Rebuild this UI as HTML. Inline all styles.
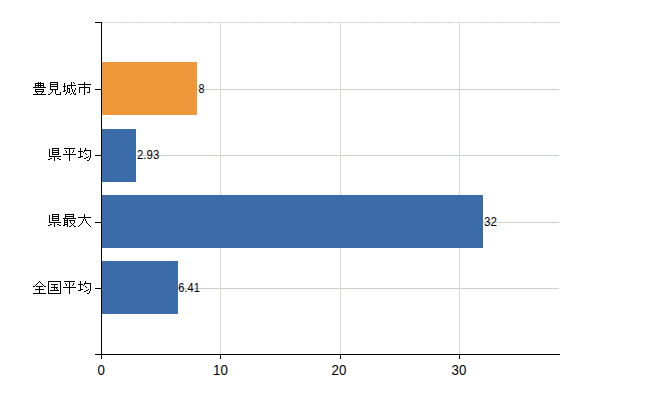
<!DOCTYPE html>
<html><head><meta charset="utf-8"><style>
html,body{margin:0;padding:0;background:#fff;width:650px;height:400px;overflow:hidden}
svg{position:absolute;left:0;top:0;display:block}
.dl{font-family:"Liberation Sans",sans-serif;font-size:12px;fill:#000}
.xl{font-family:"Liberation Sans",sans-serif;font-size:14px;fill:#000}
</style></head><body>
<svg width="650" height="400" viewBox="0 0 650 400">
<g shape-rendering="crispEdges">
<path d="M102 22.5H559" stroke="#dcd6dc" stroke-width="1" stroke-dasharray="14 1" stroke-dashoffset="7"/>
<rect x="102" y="89" width="457" height="1" fill="#c9d2c9"/>
<rect x="102" y="155" width="457" height="1" fill="#c9d2c9"/>
<rect x="102" y="222" width="457" height="1" fill="#c9d2c9"/>
<rect x="102" y="288" width="457" height="1" fill="#c9d2c9"/>
<rect x="220" y="23" width="1" height="331" fill="#d6dad7"/>
<rect x="340" y="23" width="1" height="331" fill="#d6dad7"/>
<rect x="459" y="23" width="1" height="331" fill="#d6dad7"/>
<rect x="102" y="62" width="95" height="53" fill="#ee963a"/>
<rect x="102" y="129" width="34" height="53" fill="#3c6ba9"/>
<rect x="102" y="195" width="381" height="53" fill="#3c6ba9"/>
<rect x="102" y="261" width="76" height="53" fill="#3c6ba9"/>
<rect x="101" y="22" width="1" height="337" fill="#000"/>
<rect x="95" y="354" width="465" height="1" fill="#000"/>
<rect x="95" y="22" width="6" height="1" fill="#000"/>
<rect x="95" y="89" width="6" height="1" fill="#000"/>
<rect x="95" y="155" width="6" height="1" fill="#000"/>
<rect x="95" y="222" width="6" height="1" fill="#000"/>
<rect x="95" y="288" width="6" height="1" fill="#000"/>
<rect x="220" y="354" width="1" height="5" fill="#000"/>
<rect x="340" y="354" width="1" height="5" fill="#000"/>
<rect x="459" y="354" width="1" height="5" fill="#000"/>
</g>
<text transform="translate(198.4,92.5) scale(0.9,1)" class="dl">8</text>
<text transform="translate(137.0,159.0) scale(0.955,1)" class="dl">2.93</text>
<text transform="translate(484.0,226.0) scale(0.97,1)" class="dl">32</text>
<text transform="translate(178.3,292.0) scale(0.92,1)" class="dl">6.41</text>
<text transform="translate(101.3,375) scale(0.95,1)" class="xl" text-anchor="middle">0</text>
<text transform="translate(220.4,375) scale(0.95,1)" class="xl" text-anchor="middle">10</text>
<text transform="translate(339.0,375) scale(0.95,1)" class="xl" text-anchor="middle">20</text>
<text transform="translate(458.9,375) scale(0.95,1)" class="xl" text-anchor="middle">30</text>
<g fill="#000" shape-rendering="crispEdges">
<path d="M38 82h1v1h-1zM40 82h1v1h-1zM50 82h8v1h-8zM71 82h1v1h-1zM73 82h1v1h-1zM84 82h1v1h-1zM35 83h9v1h-9zM50 83h1v1h-1zM57 83h1v1h-1zM64 83h1v1h-1zM71 83h1v1h-1zM74 83h1v1h-1zM84 83h1v1h-1zM35 84h1v1h-1zM38 84h1v1h-1zM40 84h1v1h-1zM43 84h1v1h-1zM50 84h8v1h-8zM64 84h1v1h-1zM71 84h1v1h-1zM78 84h13v1h-13zM35 85h9v1h-9zM50 85h1v1h-1zM57 85h1v1h-1zM64 85h1v1h-1zM67 85h9v1h-9zM84 85h1v1h-1zM35 86h1v1h-1zM38 86h1v1h-1zM40 86h1v1h-1zM43 86h1v1h-1zM50 86h8v1h-8zM63 86h3v1h-3zM67 86h1v1h-1zM71 86h1v1h-1zM84 86h1v1h-1zM33 87h13v1h-13zM50 87h1v1h-1zM57 87h1v1h-1zM64 87h1v1h-1zM67 87h1v1h-1zM71 87h1v1h-1zM79 87h11v1h-11zM50 88h1v1h-1zM57 88h1v1h-1zM64 88h1v1h-1zM67 88h3v1h-3zM71 88h1v1h-1zM75 88h1v1h-1zM79 88h1v1h-1zM84 88h1v1h-1zM89 88h1v1h-1zM35 89h9v1h-9zM50 89h8v1h-8zM64 89h1v1h-1zM67 89h1v1h-1zM69 89h1v1h-1zM72 89h1v1h-1zM75 89h1v1h-1zM79 89h1v1h-1zM84 89h1v1h-1zM89 89h1v1h-1zM35 90h1v1h-1zM43 90h1v1h-1zM52 90h1v1h-1zM55 90h1v1h-1zM64 90h2v1h-2zM67 90h1v1h-1zM69 90h1v1h-1zM72 90h1v1h-1zM74 90h1v1h-1zM79 90h1v1h-1zM84 90h1v1h-1zM89 90h1v1h-1zM35 91h9v1h-9zM52 91h1v1h-1zM55 91h1v1h-1zM63 91h2v1h-2zM67 91h1v1h-1zM69 91h1v1h-1zM72 91h1v1h-1zM74 91h1v1h-1zM79 91h1v1h-1zM84 91h1v1h-1zM89 91h1v1h-1zM36 92h1v1h-1zM42 92h1v1h-1zM51 92h1v1h-1zM55 92h1v1h-1zM60 92h1v1h-1zM66 92h1v1h-1zM68 92h2v1h-2zM73 92h1v1h-1zM79 92h1v1h-1zM84 92h1v1h-1zM87 92h3v1h-3zM37 93h1v1h-1zM41 93h1v1h-1zM50 93h1v1h-1zM55 93h1v1h-1zM60 93h1v1h-1zM66 93h1v1h-1zM71 93h1v1h-1zM73 93h1v1h-1zM75 93h1v1h-1zM84 93h1v1h-1zM33 94h13v1h-13zM48 94h2v1h-2zM56 94h5v1h-5zM65 94h1v1h-1zM70 94h1v1h-1zM74 94h2v1h-2zM84 94h1v1h-1zM52 148h7v1h-7zM64 148h11v1h-11zM80 148h1v1h-1zM85 148h1v1h-1zM49 149h1v1h-1zM52 149h1v1h-1zM58 149h1v1h-1zM69 149h1v1h-1zM80 149h1v1h-1zM85 149h1v1h-1zM49 150h1v1h-1zM52 150h7v1h-7zM65 150h1v1h-1zM69 150h1v1h-1zM73 150h1v1h-1zM80 150h1v1h-1zM84 150h7v1h-7zM49 151h1v1h-1zM52 151h1v1h-1zM58 151h1v1h-1zM66 151h1v1h-1zM69 151h1v1h-1zM73 151h1v1h-1zM78 151h5v1h-5zM84 151h1v1h-1zM90 151h1v1h-1zM49 152h1v1h-1zM52 152h7v1h-7zM66 152h1v1h-1zM69 152h1v1h-1zM72 152h1v1h-1zM80 152h1v1h-1zM83 152h1v1h-1zM90 152h1v1h-1zM49 153h1v1h-1zM52 153h1v1h-1zM58 153h1v1h-1zM69 153h1v1h-1zM80 153h1v1h-1zM85 153h1v1h-1zM90 153h1v1h-1zM49 154h1v1h-1zM52 154h7v1h-7zM63 154h13v1h-13zM80 154h1v1h-1zM86 154h1v1h-1zM90 154h1v1h-1zM49 155h1v1h-1zM69 155h1v1h-1zM80 155h1v1h-1zM90 155h1v1h-1zM49 156h12v1h-12zM69 156h1v1h-1zM80 156h3v1h-3zM88 156h1v1h-1zM90 156h1v1h-1zM54 157h1v1h-1zM69 157h1v1h-1zM78 157h3v1h-3zM86 157h2v1h-2zM90 157h1v1h-1zM50 158h2v1h-2zM54 158h1v1h-1zM57 158h2v1h-2zM69 158h1v1h-1zM84 158h2v1h-2zM89 158h1v1h-1zM48 159h2v1h-2zM54 159h1v1h-1zM59 159h2v1h-2zM69 159h1v1h-1zM89 159h1v1h-1zM54 160h1v1h-1zM69 160h1v1h-1zM87 160h2v1h-2zM52 214h7v1h-7zM65 214h9v1h-9zM84 214h1v1h-1zM49 215h1v1h-1zM52 215h1v1h-1zM58 215h1v1h-1zM65 215h1v1h-1zM73 215h1v1h-1zM84 215h1v1h-1zM49 216h1v1h-1zM52 216h7v1h-7zM65 216h9v1h-9zM84 216h1v1h-1zM49 217h1v1h-1zM52 217h1v1h-1zM58 217h1v1h-1zM65 217h1v1h-1zM73 217h1v1h-1zM78 217h13v1h-13zM49 218h1v1h-1zM52 218h7v1h-7zM63 218h13v1h-13zM84 218h1v1h-1zM49 219h1v1h-1zM52 219h1v1h-1zM58 219h1v1h-1zM64 219h1v1h-1zM67 219h1v1h-1zM83 219h1v1h-1zM85 219h1v1h-1zM49 220h1v1h-1zM52 220h7v1h-7zM64 220h4v1h-4zM69 220h6v1h-6zM83 220h1v1h-1zM85 220h1v1h-1zM49 221h1v1h-1zM64 221h1v1h-1zM67 221h1v1h-1zM70 221h1v1h-1zM74 221h1v1h-1zM82 221h1v1h-1zM86 221h1v1h-1zM49 222h12v1h-12zM64 222h4v1h-4zM70 222h1v1h-1zM74 222h1v1h-1zM82 222h1v1h-1zM86 222h1v1h-1zM54 223h1v1h-1zM64 223h1v1h-1zM67 223h1v1h-1zM71 223h1v1h-1zM73 223h1v1h-1zM81 223h1v1h-1zM87 223h1v1h-1zM50 224h2v1h-2zM54 224h1v1h-1zM57 224h2v1h-2zM64 224h4v1h-4zM72 224h1v1h-1zM80 224h1v1h-1zM88 224h1v1h-1zM48 225h2v1h-2zM54 225h1v1h-1zM59 225h2v1h-2zM63 225h2v1h-2zM67 225h1v1h-1zM71 225h1v1h-1zM73 225h1v1h-1zM79 225h1v1h-1zM89 225h1v1h-1zM54 226h1v1h-1zM67 226h1v1h-1zM69 226h2v1h-2zM74 226h2v1h-2zM78 226h1v1h-1zM90 226h1v1h-1zM39 281h1v1h-1zM48 281h13v1h-13zM64 281h11v1h-11zM80 281h1v1h-1zM85 281h1v1h-1zM38 282h1v1h-1zM40 282h1v1h-1zM48 282h1v1h-1zM60 282h1v1h-1zM69 282h1v1h-1zM80 282h1v1h-1zM85 282h1v1h-1zM37 283h1v1h-1zM41 283h1v1h-1zM48 283h1v1h-1zM60 283h1v1h-1zM65 283h1v1h-1zM69 283h1v1h-1zM73 283h1v1h-1zM80 283h1v1h-1zM84 283h7v1h-7zM36 284h1v1h-1zM42 284h1v1h-1zM48 284h1v1h-1zM51 284h7v1h-7zM60 284h1v1h-1zM66 284h1v1h-1zM69 284h1v1h-1zM73 284h1v1h-1zM78 284h5v1h-5zM84 284h1v1h-1zM90 284h1v1h-1zM35 285h1v1h-1zM43 285h1v1h-1zM48 285h1v1h-1zM54 285h1v1h-1zM60 285h1v1h-1zM66 285h1v1h-1zM69 285h1v1h-1zM72 285h1v1h-1zM80 285h1v1h-1zM83 285h1v1h-1zM90 285h1v1h-1zM33 286h2v1h-2zM36 286h7v1h-7zM44 286h2v1h-2zM48 286h1v1h-1zM54 286h1v1h-1zM60 286h1v1h-1zM69 286h1v1h-1zM80 286h1v1h-1zM85 286h1v1h-1zM90 286h1v1h-1zM39 287h1v1h-1zM48 287h1v1h-1zM51 287h7v1h-7zM60 287h1v1h-1zM63 287h13v1h-13zM80 287h1v1h-1zM86 287h1v1h-1zM90 287h1v1h-1zM39 288h1v1h-1zM48 288h1v1h-1zM54 288h1v1h-1zM56 288h1v1h-1zM60 288h1v1h-1zM69 288h1v1h-1zM80 288h1v1h-1zM90 288h1v1h-1zM35 289h9v1h-9zM48 289h1v1h-1zM54 289h1v1h-1zM57 289h1v1h-1zM60 289h1v1h-1zM69 289h1v1h-1zM80 289h3v1h-3zM88 289h1v1h-1zM90 289h1v1h-1zM39 290h1v1h-1zM48 290h1v1h-1zM50 290h9v1h-9zM60 290h1v1h-1zM69 290h1v1h-1zM78 290h3v1h-3zM86 290h2v1h-2zM90 290h1v1h-1zM39 291h1v1h-1zM48 291h1v1h-1zM60 291h1v1h-1zM69 291h1v1h-1zM84 291h2v1h-2zM89 291h1v1h-1zM39 292h1v1h-1zM48 292h1v1h-1zM60 292h1v1h-1zM69 292h1v1h-1zM89 292h1v1h-1zM33 293h13v1h-13zM48 293h13v1h-13zM69 293h1v1h-1zM87 293h2v1h-2z"/>
</g>
</svg>
</body></html>
